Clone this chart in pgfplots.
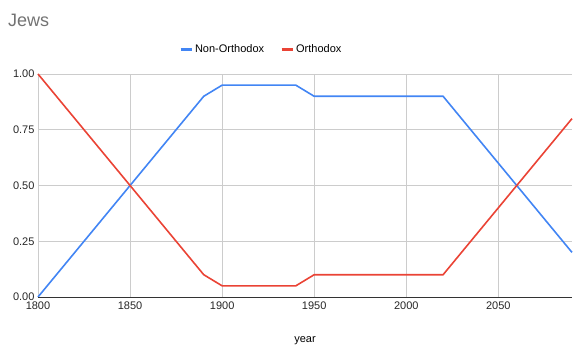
\documentclass[border=0pt]{standalone}
\usepackage{pgfplots}
\pgfplotsset{compat=1.18}
\usepackage{fontspec}
\setmainfont{Liberation Sans}
\definecolor{gblue}{HTML}{4285F4}
\definecolor{gred}{HTML}{EA4335}
\definecolor{ggrid}{HTML}{CCCCCC}
\begin{document}
\begin{tikzpicture}[x=1pt,y=1pt]
\path[use as bounding box] (0,0) rectangle (583,353);
\node[anchor=west,text=black!55,font=\fontsize{18}{20}\selectfont,inner sep=0] at (8,333) {Jews};
\begin{axis}[
  at={(38pt,56pt)}, anchor=south west,
  scale only axis, width=534pt, height=223pt,
  xmin=1800, xmax=2090, ymin=0, ymax=1,
  xtick={1800,1850,...,2050}, ytick={0,0.25,0.5,0.75,1},
  xticklabel style={/pgf/number format/1000 sep={}, /pgf/number format/fixed, yshift=-1pt},
  yticklabel style={/pgf/number format/fixed, /pgf/number format/fixed zerofill, /pgf/number format/precision=2, xshift=0pt},
  /pgf/number format/assume math mode=true,
  tick label style={font=\fontsize{11}{12}\selectfont, text=black!85},
  grid=major, major grid style={ggrid, line width=0.6pt},
  axis line style={draw=none},
  axis x line*=bottom, axis y line*=left,
  tick style={draw=none},
  xlabel={year}, xlabel style={font=\fontsize{11}{12}\selectfont, at={(axis description cs:0.5,0)}, anchor=center, yshift=-44pt},
  legend style={at={(0.418,1.0)}, anchor=south, yshift=16pt, draw=none, fill=none,
    legend columns=2, font=\fontsize{11}{12}\selectfont,
    /tikz/every even column/.append style={column sep=14pt}},
  legend image code/.code={\draw[line width=3pt] (0pt,0pt) -- (11pt,0pt);},
  clip=false,
]
\addplot[gblue, line width=1.6pt] coordinates {
(1800,0) (1850,0.5) (1890,0.9) (1900,0.95) (1940,0.95) (1950,0.9) (2020,0.9) (2060,0.5) (2090,0.2)};
\addlegendentry{Non-Orthodox}
\addplot[gred, line width=1.6pt] coordinates {
(1800,1) (1850,0.5) (1890,0.1) (1900,0.05) (1940,0.05) (1950,0.1) (2020,0.1) (2060,0.5) (2090,0.8)};
\addlegendentry{Orthodox}
\draw[black!80, line width=0.8pt] (axis cs:1800,0) -- (axis cs:2090,0);
\end{axis}
\end{tikzpicture}
\end{document}
